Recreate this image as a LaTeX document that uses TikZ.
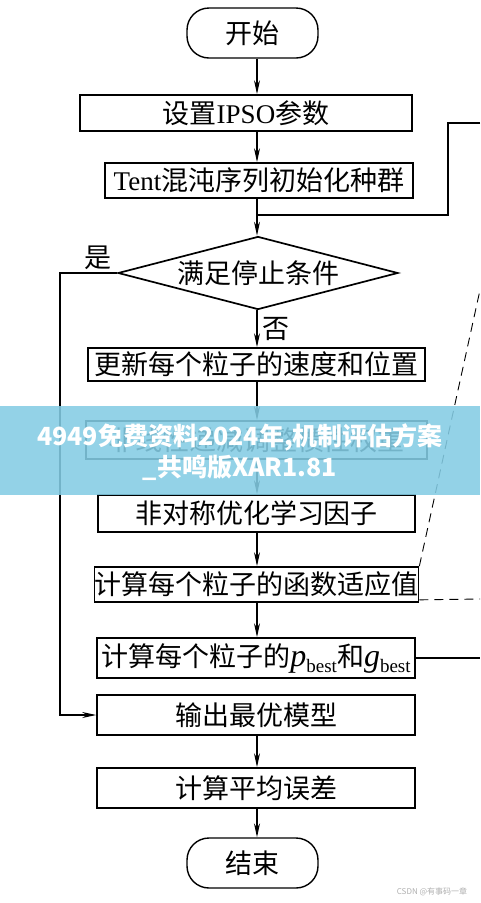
\documentclass[tikz,border=0pt]{standalone}
\usepackage{fontspec}
\setmainfont{Noto Sans CJK SC}
\newfontfamily\latin{Liberation Serif}
\usetikzlibrary{shapes.geometric,arrows.meta}
\definecolor{bannerblue}{RGB}{132,204,228}
\definecolor{markgray}{RGB}{175,175,175}
\newcommand{\bestsym}[1]{{\latin\itshape\fontsize{32}{32}\selectfont #1}%
  {\latin\fontsize{19}{19}\selectfont\raisebox{-6pt}{best}}}

\begin{document}
\begin{tikzpicture}[x=1pt,y=-1pt,
    every node/.style={font=\fontsize{27}{30}\selectfont},
    box/.style={draw, line width=1.7pt, inner sep=0pt},
    term/.style={draw, line width=1.4pt, rounded corners=22pt,
      minimum width=131pt, minimum height=50pt, inner sep=0pt},
    decision/.style={draw, diamond, aspect=3.8, line width=1.7pt, inner sep=0pt,
      minimum width=280pt, minimum height=73pt},
    arr/.style={line width=1.1pt, -{Stealth[length=14pt,width=6pt]}},
    link/.style={line width=1.1pt},
    lens/.style={line width=0.9pt, dash pattern=on 9pt off 6pt}]

    \useasboundingbox (0,0) rectangle (480,903);

    \node[term] (start) at (252.5,33) {开始};
    \node[box, minimum width=332pt, minimum height=36pt] (setup) at (246,113)
      {设置{\latin IPSO}参数};
    \node[box, minimum width=308pt, minimum height=35pt] (tent) at (259,180.5)
      {{\latin Tent}混沌序列初始化种群};
    \node[decision] (cond) at (258,273) {满足停止条件};
    \node[box, minimum width=337pt, minimum height=33pt] (update) at (256.5,364.5)
      {更新每个粒子的速度和位置};
    \node[box, minimum width=341pt, minimum height=38pt] (inertia) at (256.5,440)
      {非线性递减调整惯性权重};
    \node[box, minimum width=317pt, minimum height=37pt] (asym) at (256.5,513.5)
      {非对称优化学习因子};
    \node[box, minimum width=317pt, minimum height=35pt] (fit) at (256.5,584.5)
      {计算每个粒子的函数适应值};
    \node[box, minimum width=318pt, minimum height=40pt] (best) at (256,658)
      {计算每个粒子的\bestsym{p}和\bestsym{g}};
    \node[box, minimum width=318pt, minimum height=40pt] (output) at (256,715)
      {输出最优模型};
    \node[box, minimum width=318pt, minimum height=40pt] (error) at (256,788)
      {计算平均误差};
    \node[term] (stop) at (252.5,863) {结束};

    \coordinate (axis) at (257,0);
    \coordinate (join) at (257,215);
    \coordinate (yesturn) at (60,273);
    \coordinate (backin) at (480,123);
    \coordinate (backturn) at (448,123);
    \coordinate (backout) at (480,658);
    \coordinate (lensedge) at (480,290);
    \coordinate (lensflat) at (480,599);

    \draw[arr] (start.south -| axis) -- (setup.north -| axis);
    \draw[arr] (setup.south -| axis) -- (tent.north -| axis);
    \draw[arr] (tent.south -| axis) -- (cond.north -| axis);
    \draw[arr] (cond.south -| axis) -- (update.north -| axis)
      node[midway, right=2pt] (no) {否};
    \draw[arr] (update.south -| axis) -- (inertia.north -| axis);
    \draw[arr] (inertia.south -| axis) -- (asym.north -| axis);
    \draw[arr] (asym.south -| axis) -- (fit.north -| axis);
    \draw[arr] (fit.south -| axis) -- (best.north -| axis);
    \draw[arr] (output.south -| axis) -- (error.north -| axis);
    \draw[arr] (error.south -| axis) -- (stop.north -| axis);

    \draw[arr] (cond.west) -- (yesturn) |- (output.west);
    \node (yes) at (98,258) {是};

    \draw[link] (best.east) -- (backout);
    \draw[link] (backin) -- (backturn) |- (join);

    \draw[lens] (fit.north east) -- (lensedge);
    \draw[lens] (fit.south east) ++(0,-3) -- (lensflat);

    \fill[bannerblue, fill opacity=0.88] (0,406) rectangle (480,495);
    \node[text=white, font=\fontsize{25}{28}\selectfont\bfseries] (bannerA) at (240,437)
      {4949免费资料2024年,机制评估方案};
    \node[text=white, font=\fontsize{25}{28}\selectfont\bfseries] (bannerB) at (240,468)
      {\_共鸣版XAR1.81};
    \node[text=markgray, font=\fontsize{8}{9}\selectfont] (mark) at (432,892)
      {CSDN @有事码一章};

  \end{tikzpicture}
\end{document}
